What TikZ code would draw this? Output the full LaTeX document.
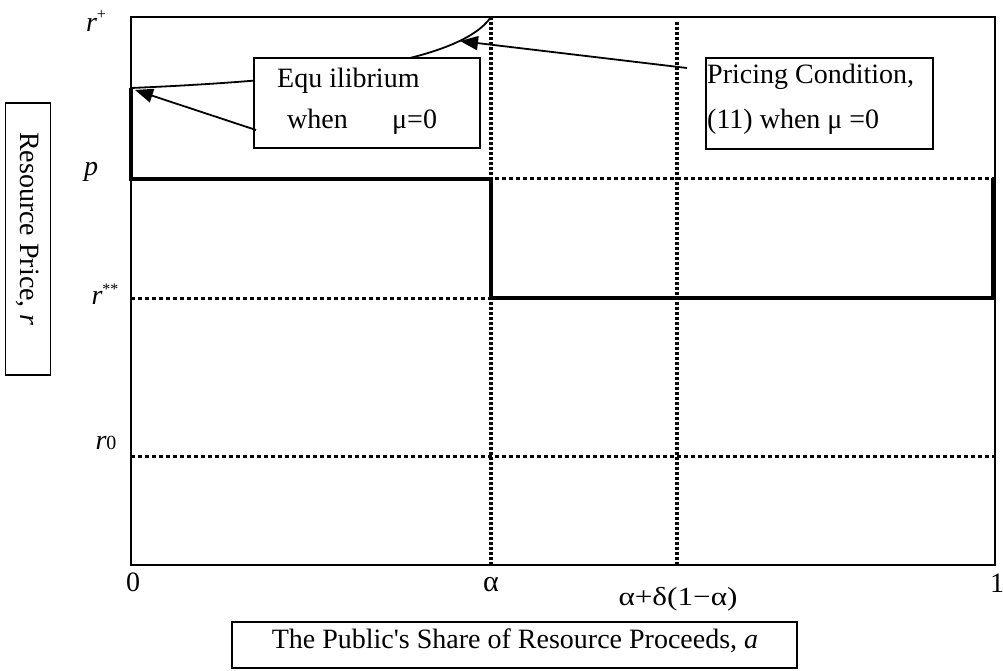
\documentclass[tikz,border=0pt]{standalone}
\usepackage{fontspec}
\setmainfont{Liberation Serif}[Ligatures=TeXOff]
\usetikzlibrary{arrows.meta}
\begin{document}
\begin{tikzpicture}[x=1pt,y=-1pt,
  frameline/.style={line width=1.8pt},
  thickline/.style={line width=4.5pt},
  hdot/.style={line width=3pt, dash pattern=on 4pt off 3pt},
  vdot/.style={line width=3.5pt, dash pattern=on 3pt off 2pt},
  lbl/.style={inner sep=0pt, font=\fontsize{28}{30}\selectfont},
  box/.style={draw, line width=1.8pt, fill=white, inner sep=0pt},
  arr/.style={line width=1.8pt, -{Triangle[length=18pt,width=14pt]}}]
\useasboundingbox (0,0) rectangle (1003,670);

% corner coordinates
\coordinate (tl) at (131,17);
\coordinate (br) at (995,565);
\coordinate (pL) at (131,178);
\coordinate (pR) at (995,178);
\coordinate (rsL) at (131,298);
\coordinate (rsM) at (491,298);
\coordinate (r0L) at (131,456);
\coordinate (r0R) at (995,456);
\coordinate (aT) at (491,17);
\coordinate (aB) at (491,565);
\coordinate (bT) at (677,22);
\coordinate (bB) at (677,565);

% dotted guide lines
\draw[hdot] (pL) -- (pR);
\draw[hdot] (rsL) -- (rsM);
\draw[hdot] (r0L) -- (r0R);
\draw[vdot] (aT) -- (aB);
\draw[vdot] (bT) -- (bB);

% equilibrium (thick)
\coordinate (e0) at (131,88);
\coordinate (e1) at (131,179);
\coordinate (e2) at (491,179);
\coordinate (e3) at (491,298);
\coordinate (e4) at (993,298);
\coordinate (e5) at (993,178);
\draw[thickline] (e0) -- (e1) -- (e2) -- (e3) -- (e4) -- (e5);

% frame
\draw[frameline] (tl) rectangle (br);

% pricing condition curve
\draw[line width=1.8pt] (e0) .. controls (320,80) and (460,62) .. (aT);

% boxes
\node[box, minimum width=226pt, minimum height=90pt] (eqbox) at (367,103) {};
\node[lbl, anchor=base west] (eqt1) at (277,87) {Equ ilibrium};
\node[lbl, anchor=base west] (eqt2) at (287,128) {when};
\node[lbl, anchor=base west] (eqt3) at (392,128) {μ=0};

\node[box, minimum width=227pt, minimum height=91pt] (prbox) at (819.5,103.5) {};
\node[lbl, anchor=base west] (prt1) at (707,83) {Pricing Condition,};
\node[lbl, anchor=base west] (prt2) at (707,128) {(11) when μ =0};

\node[box, minimum width=565pt, minimum height=46pt] (xbox) at (514.5,645) {};
\node[lbl, anchor=base] (xt) at (515,648) {The Public's Share of Resource Proceeds, \textit{a}};

\node[box, minimum width=272pt, minimum height=45pt, rotate=-90] (ybox) at (28,239) {};
\node[lbl, rotate=-90] (yt) at (28,229) {Resource Price, \textit{r}};

% arrows
\coordinate (eqstart) at (256,130);
\coordinate (eqtip) at (135,90);
\coordinate (prstart) at (687,68);
\coordinate (prtip) at (460,41);
\draw[arr] (eqstart) -- (eqtip);
\draw[arr] (prstart) -- (prtip);

% y labels
\node[lbl] (rplus) at (96,21) {\textit{r}\raisebox{12pt}{\fontsize{16}{16}\selectfont +}};
\node[lbl] (plab) at (91,172) {\textit{p}};
\node[lbl] (rss) at (105,294) {\textit{r}\raisebox{10pt}{\fontsize{16}{16}\selectfont **}};
\node[lbl] (r0) at (106,443) {\textit{r}{\fontsize{20}{20}\selectfont 0}};

% x labels
\node[lbl] (x0) at (133,582) {0};
\node[lbl, font=\fontsize{30}{32}\selectfont] (xa) at (491,585) {α};
\node[lbl, font=\fontsize{26}{28}\selectfont, xscale=1.2] (xab) at (678,599) {α+δ(1−α)};
\node[lbl] (x1) at (997,583) {1};
\end{tikzpicture}
\end{document}
